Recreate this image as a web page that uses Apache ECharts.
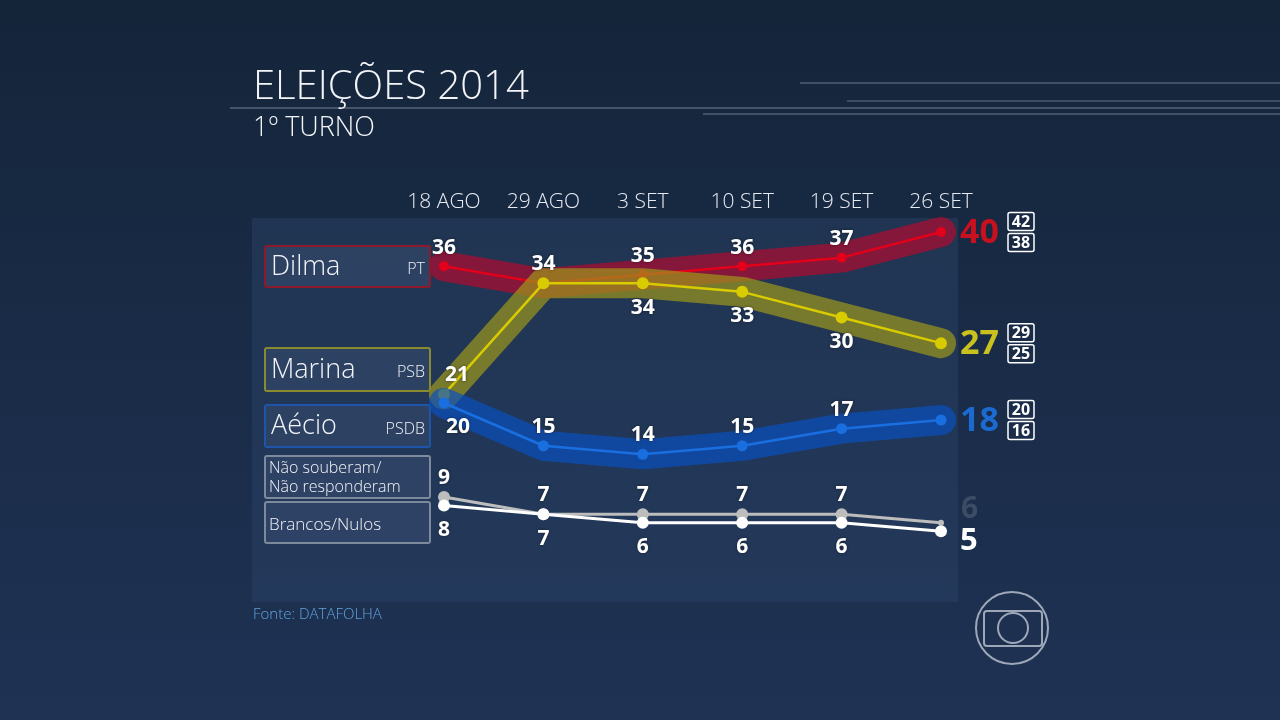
<!DOCTYPE html>
<html>
<head>
<meta charset="utf-8">
<script src="https://cdn.jsdelivr.net/npm/echarts@6/dist/echarts.min.js"></script>
<style>
  html, body { margin: 0; padding: 0; }
  #main { width: 1280px; height: 720px; }
</style>
</head>
<body>
<div id="main"></div>
<script>
// dados da pesquisa Datafolha (1º turno)
var datas = ['18 AGO', '29 AGO', '3 SET', '10 SET', '19 SET', '26 SET'];
var dilma = [36, 34, 35, 36, 37, 40];
var marina = [21, 34, 34, 33, 30, 27];
var aecio = [20, 15, 14, 15, 17, 18];
var naoSouberam = [9, 7, 7, 7, 7, 6];
var brancosNulos = [8, 7, 6, 6, 6, 5];
// margem de erro da última pesquisa (máx, mín)
var dilmaMargem = [42, 38];
var marinaMargem = [29, 25];
var aecioMargem = [20, 16];

var FONT = "'Open Sans', 'Noto Sans', sans-serif";
var myChart = echarts.init(document.getElementById('main'));

// faixa larga translúcida atrás da linha
function faixa(data, color, z) {
    return {
        type: 'line', data: data, symbol: 'none', silent: true, z: z,
        lineStyle: { width: 30, color: color, cap: 'round', join: 'round' }
    };
}
// linha fina com pontos e rótulos; pos = posição do rótulo de cada ponto
function linha(data, color, pos, z, extra) {
    extra = extra || {};
    return {
        type: 'line', z: z, symbol: 'circle',
        symbolSize: extra.symbolSize || 10,
        itemStyle: { color: color },
        lineStyle: { width: extra.width || 2.5, color: color },
        data: data.map(function (v, i) {
            var p = pos[i];
            return {
                value: v,
                symbolSize: (extra.lastSize && i === data.length - 1) ? extra.lastSize : undefined,
                label: p ? {
                    show: true, position: p, distance: p === 'top' ? 3 : 8,
                    offset: (extra.offset && extra.offset[i]) || [0, 0],
                    color: '#ffffff', fontSize: 21, fontWeight: 'bold', fontFamily: FONT,
                    textShadowColor: 'rgba(0,0,0,0.5)', textShadowBlur: 3
                } : { show: false }
            };
        })
    };
}

// caixas da legenda à esquerda
function caixa(y, h, borda) {
    return {
        type: 'rect', shape: { x: 265, y: y, width: 165, height: h, r: 2 },
        style: { fill: 'rgba(60,80,115,0.45)', stroke: borda, lineWidth: 2 }, z: 5
    };
}
function texto(x, y, t, size, align, extra) {
    return {
        type: 'text', x: x, y: y, z: 6,
        style: Object.assign({
            text: t, fill: '#f2f4f8', font: '300 ' + size + 'px ' + FONT,
            align: align || 'left', verticalAlign: 'middle'
        }, extra || {})
    };
}

var fundo = [
    // painel do gráfico
    { type: 'rect', shape: { x: 252, y: 218, width: 706, height: 384 },
      style: { fill: 'rgba(45,68,105,0.45)' }, z: 0 },
    // linhas decorativas
    { type: 'line', shape: { x1: 230, y1: 108, x2: 1280, y2: 108 }, style: { stroke: 'rgba(200,210,225,0.55)', lineWidth: 1.2 } },
    { type: 'line', shape: { x1: 800, y1: 83, x2: 1280, y2: 83 }, style: { stroke: 'rgba(200,210,225,0.5)', lineWidth: 1.2 } },
    { type: 'line', shape: { x1: 847, y1: 101, x2: 1280, y2: 101 }, style: { stroke: 'rgba(200,210,225,0.45)', lineWidth: 1.2 } },
    { type: 'line', shape: { x1: 703, y1: 114, x2: 1280, y2: 114 }, style: { stroke: 'rgba(200,210,225,0.5)', lineWidth: 1.2 } },
    // títulos
    texto(253, 88, 'ELEIÇÕES 2014', 40),
    texto(253, 128, '1º TURNO', 27),
    texto(253, 615, 'Fonte: DATAFOLHA', 15, 'left', { fill: '#5fa4dc' }),
    // legendas
    caixa(246, 41, '#8c1a2c'), texto(271, 267, 'Dilma', 27), texto(425, 269, 'PT', 16, 'right'),
    caixa(348, 43, '#8a8a30'), texto(271, 370, 'Marina', 27), texto(425, 372, 'PSB', 16, 'right'),
    caixa(405, 42, '#1e55a8'), texto(271, 426, 'Aécio', 27), texto(425, 429, 'PSDB', 16, 'right'),
    caixa(456, 42, '#7d8a9c'), texto(269, 468, 'Não souberam/', 16), texto(269, 487, 'Não responderam', 16),
    caixa(502, 41, '#7d8a9c'), texto(269, 525, 'Brancos/Nulos', 17),
    // logo
    { type: 'circle', shape: { cx: 1012, cy: 628, r: 36 }, style: { fill: 'none', stroke: 'rgba(190,198,210,0.8)', lineWidth: 2 } },
    { type: 'rect', shape: { x: 984, y: 611, width: 58, height: 35, r: 3 }, style: { fill: 'none', stroke: 'rgba(190,198,210,0.8)', lineWidth: 2 } },
    { type: 'circle', shape: { cx: 1013, cy: 628, r: 15 }, style: { fill: 'none', stroke: 'rgba(190,198,210,0.8)', lineWidth: 2 } }
];

myChart.setOption({
    animation: false,
    backgroundColor: {
        type: 'linear', x: 0, y: 0, x2: 0, y2: 1,
        colorStops: [{ offset: 0, color: '#14253a' }, { offset: 1, color: '#1f3254' }]
    },
    grid: { left: 444, right: 339, top: 232, bottom: 146 },
    xAxis: {
        type: 'category', data: datas, boundaryGap: false, position: 'top',
        axisLine: { show: false }, axisTick: { show: false }, splitLine: { show: false },
        axisLabel: { interval: 0, color: '#e6ebf2', fontSize: 21, fontFamily: FONT, fontWeight: 300, margin: 19 }
    },
    yAxis: { type: 'value', min: 0, max: 40, show: false },
    graphic: fundo,
    series: [
        faixa(dilma, 'rgba(165,14,50,0.75)', 2),
        linha(dilma, '#e3001a', ['top', null, 'top', 'top', 'top', null], 3),
        faixa(marina, 'rgba(160,155,25,0.68)', 4),
        linha(marina, '#d8cb00', ['top', 'top', 'bottom', 'bottom', 'bottom', null], 5,
            { symbolSize: 12, offset: [[13, 0]] }),
        faixa(aecio, 'rgba(10,80,190,0.7)', 6),
        linha(aecio, '#1a6fe0', ['bottom', 'top', 'top', 'top', 'top', null], 7,
            { symbolSize: 11, offset: [[14, 0]] }),
        linha(naoSouberam, '#bdbdbd', ['top', 'top', 'top', 'top', 'top', null], 8,
            { symbolSize: 12, width: 3, lastSize: 6 }),
        linha(brancosNulos, '#ffffff', ['bottom', 'bottom', 'bottom', 'bottom', 'bottom', null], 9,
            { symbolSize: 12, width: 3 })
    ]
});

// números finais e margens à direita, posicionados pela escala do gráfico
var ultimo = datas.length - 1;
function finais(valor, cor, margem) {
    var p = myChart.convertToPixel({ gridIndex: 0 }, [ultimo, valor]);
    var el = [{
        type: 'text', x: p[0] + 19, y: p[1] + 1, z: 10,
        style: { text: String(valor), fill: cor, font: 'bold 34px ' + FONT, verticalAlign: 'middle' }
    }];
    if (margem) {
        margem.forEach(function (m, k) {
            var cy = p[1] + (k === 0 ? -10.5 : 10.5);
            el.push({ type: 'rect', z: 10, shape: { x: p[0] + 67, y: cy - 9, width: 26, height: 18, r: 2 },
                      style: { fill: 'none', stroke: '#ffffff', lineWidth: 1.5 } });
            el.push({ type: 'text', x: p[0] + 80, y: cy + 1, z: 11,
                      style: { text: String(m), fill: '#ffffff', font: 'bold 16px ' + FONT,
                               align: 'center', verticalAlign: 'middle' } });
        });
    }
    return el;
}
var extras = [].concat(
    finais(dilma[ultimo], '#c8101e', dilmaMargem),
    finais(marina[ultimo], '#c9c21e', marinaMargem),
    finais(aecio[ultimo], '#1a6ad0', aecioMargem)
);
var pN = myChart.convertToPixel({ gridIndex: 0 }, [ultimo, naoSouberam[ultimo]]);
var pB = myChart.convertToPixel({ gridIndex: 0 }, [ultimo, brancosNulos[ultimo]]);
extras.push({ type: 'text', x: pN[0] + 20, y: pN[1] - 13, z: 10,
    style: { text: String(naoSouberam[ultimo]), fill: '#3c4c64', font: 'bold 30px ' + FONT, verticalAlign: 'middle' } });
extras.push({ type: 'text', x: pB[0] + 19, y: pB[1] + 10, z: 10,
    style: { text: String(brancosNulos[ultimo]), fill: '#ffffff', font: 'bold 31px ' + FONT, verticalAlign: 'middle' } });

myChart.setOption({ graphic: fundo.concat(extras) });
</script>
</body>
</html>
